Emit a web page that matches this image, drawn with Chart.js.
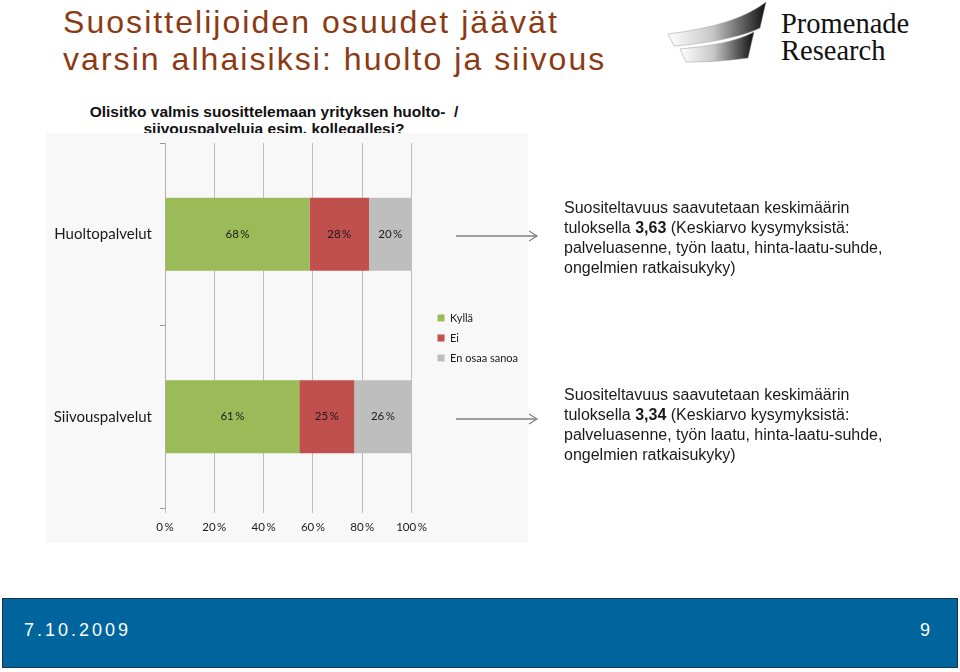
<!DOCTYPE html>
<html>
<head>
<meta charset="utf-8">
<script src="https://cdn.jsdelivr.net/npm/chart.js@4/dist/chart.umd.min.js"></script>
<style>
  html,body{margin:0;padding:0;background:#fff;}
  body{width:960px;height:672px;position:relative;overflow:hidden;font-family:"Liberation Sans",Arial,sans-serif;}
  #title{position:absolute;left:63px;top:4px;font-size:32px;line-height:37px;color:#8B3A14;letter-spacing:2.05px;white-space:nowrap;}
  #sub{position:absolute;left:46px;width:456px;top:103px;text-align:center;font-weight:bold;font-size:15.5px;line-height:17px;color:#111;}
  #chartBox{position:absolute;left:46px;top:133px;width:482px;height:410px;background:#f8f8f8;}
  .note{position:absolute;left:564px;font-size:16px;line-height:20px;color:#1a1a1a;white-space:nowrap;}
  #footer{position:absolute;left:2px;top:598px;width:954px;height:68px;background:#00659D;border:1px solid #18344c;}
  #footer .d{position:absolute;left:21px;top:21px;color:#fff;font-size:18px;letter-spacing:3px;}
  #footer .p{position:absolute;right:27px;top:21px;color:#fff;font-size:18px;}
  #logoText{position:absolute;left:781px;top:10px;font-family:"Liberation Serif","DejaVu Serif",serif;font-size:28.5px;line-height:27px;color:#111;}
</style>
</head>
<body>
<div id="title">Suosittelijoiden osuudet jäävät<br>varsin alhaisiksi: huolto ja siivous</div>

<svg style="position:absolute;left:660px;top:0" width="115" height="70">
  <defs>
    <linearGradient id="g1" x1="0" y1="0" x2="1" y2="0">
      <stop offset="0" stop-color="#ffffff"/>
      <stop offset="0.45" stop-color="#c8c8c8"/>
      <stop offset="1" stop-color="#101010"/>
    </linearGradient>
  </defs>
  <path d="M8,34 C40,30 80,22 106,2 L100,28 C80,38 40,44 14,46 Z" fill="url(#g1)" stroke="#999" stroke-width="0.5"/>
  <path d="M20,49 C50,46 75,42 94,32 L88,58 C65,61 45,62 26,62 Z" fill="url(#g1)" stroke="#999" stroke-width="0.5"/>
</svg>
<div id="logoText">Promenade<br>Research</div>

<div id="sub">Olisitko valmis suosittelemaan yrityksen huolto- &nbsp;/<br>siivouspalveluja esim. kollegallesi?</div>

<div id="chartBox"><canvas id="c" width="482" height="410"></canvas></div>

<svg style="position:absolute;left:450px;top:225px" width="100" height="22">
  <line x1="6" y1="11" x2="87" y2="11" stroke="#7f7f7f" stroke-width="1.5"/>
  <polyline points="79,6 87,11 79,16" fill="none" stroke="#7f7f7f" stroke-width="1.2"/>
</svg>
<svg style="position:absolute;left:450px;top:408px" width="100" height="22">
  <line x1="6" y1="11" x2="87" y2="11" stroke="#7f7f7f" stroke-width="1.5"/>
  <polyline points="79,6 87,11 79,16" fill="none" stroke="#7f7f7f" stroke-width="1.2"/>
</svg>

<div class="note" style="top:198px">Suositeltavuus saavutetaan keskimäärin<br>tuloksella <b>3,63</b> (Keskiarvo kysymyksistä:<br>palveluasenne, työn laatu, hinta-laatu-suhde,<br>ongelmien ratkaisukyky)</div>
<div class="note" style="top:385px">Suositeltavuus saavutetaan keskimäärin<br>tuloksella <b>3,34</b> (Keskiarvo kysymyksistä:<br>palveluasenne, työn laatu, hinta-laatu-suhde,<br>ongelmien ratkaisukyky)</div>

<div id="footer"><span class="d">7.10.2009</span><span class="p">9</span></div>

<script>
const categories = ["Huoltopalvelut", "Siivouspalvelut"];
const seriesNames = ["Kyllä", "Ei", "En osaa sanoa"];
const kylla = [68, 61];
const ei = [28, 25];
const eos = [20, 26];
const xTicks = [0, 20, 40, 60, 80, 100];
const colors = ["#9BBB59", "#C0504D", "#BEBEBE"];

const raw = [kylla, ei, eos];
const totals = categories.map((_, i) => raw.reduce((s, arr) => s + arr[i], 0));
const datasets = raw.map((arr, k) => ({
  label: seriesNames[k],
  data: arr.map((v, i) => v / totals[i] * 100),
  rawValues: arr,
  backgroundColor: colors[k],
  borderWidth: 0,
  barPercentage: 0.4,
  categoryPercentage: 1.0
}));

const FONT = 'Lato, "Open Sans", sans-serif';

const barLabels = {
  id: 'barLabels',
  afterDatasetsDraw(chart) {
    const ctx = chart.ctx;
    ctx.save();
    ctx.font = '11.5px ' + FONT;
    ctx.fillStyle = '#1a1a1a';
    ctx.textAlign = 'center';
    ctx.textBaseline = 'middle';
    chart.data.datasets.forEach((ds, di) => {
      chart.getDatasetMeta(di).data.forEach((el, i) => {
        ctx.fillText(ds.rawValues[i] + '\u2009%', (el.x + el.base) / 2, el.y);
      });
    });
    ctx.restore();
  }
};

new Chart(document.getElementById('c'), {
  type: 'bar',
  data: { labels: categories, datasets },
  options: {
    indexAxis: 'y',
    responsive: false,
    animation: false,
    layout: { padding: { top: 10, right: 0, left: 0, bottom: 10 } },
    plugins: {
      legend: {
        position: 'right',
        align: 'center',
        labels: {
          boxWidth: 7, boxHeight: 7, padding: 9,
          color: '#1a1a1a',
          font: { family: FONT, size: 11 }
        }
      },
      tooltip: { enabled: false }
    },
    scales: {
      x: {
        stacked: true, min: 0, max: 100,
        afterBuildTicks(s) { s.ticks = xTicks.map(v => ({ value: v })); },
        afterFit(s) { s.height = 25; },
        ticks: {
          callback: v => v + '\u2009%',
          color: '#1a1a1a', padding: 7,
          font: { family: FONT, size: 11.5 }
        },
        grid: { color: '#bdbdbd', lineWidth: 1, tickLength: 5, drawTicks: true },
        border: { display: false }
      },
      y: {
        stacked: true,
        afterFit(s) { s.width = 119; s.paddingTop = 0; s.paddingBottom = 0; },
        ticks: { color: '#1a1a1a', padding: 8, font: { family: FONT, size: 15 } },
        grid: { offset: true, drawOnChartArea: false, drawTicks: true, tickLength: 5, color: '#9a9a9a' },
        border: { display: true, color: '#b0b0b0' }
      },
      yGap: {
        type: 'linear', position: 'right', display: false,
        afterFit(s) { s.width = 17; }
      }
    }
  },
  plugins: [barLabels]
});
</script>
</body>
</html>
